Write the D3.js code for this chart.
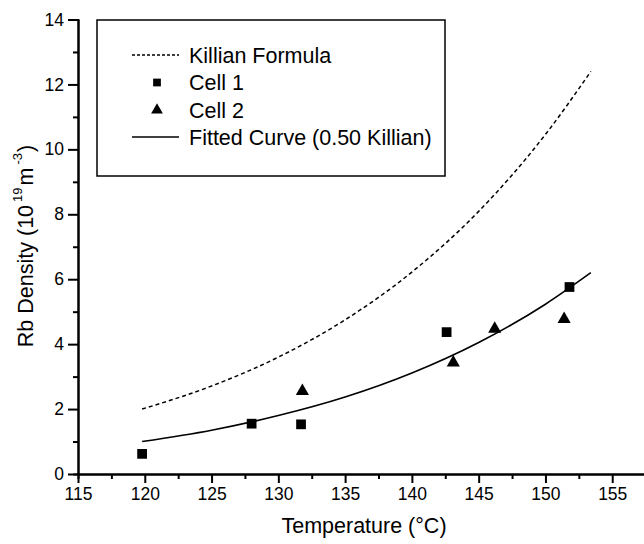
<!DOCTYPE html>
<html lang="en">
<head>
<meta charset="UTF-8">
<title>Rb Density</title>
<script src="https://cdn.jsdelivr.net/npm/d3@7"></script>
<style>
  body { margin: 0; background: #fff; }
  svg { display: block; font-family: "Liberation Sans", Arial, sans-serif; }
  .axis path, .axis line { stroke: #000; stroke-width: 2; }
  .axis text { font-size: 17.5px; fill: #000; }
</style>
</head>
<body>
<div class="chart"></div>
<script>
// data
var cell1Temp = [119.8, 128.0, 131.7, 142.6, 151.8];
var cell1Dens = [0.62, 1.55, 1.53, 4.37, 5.76];
var cell2Temp = [131.8, 143.1, 146.2, 151.4];
var cell2Dens = [2.55, 3.43, 4.47, 4.77];
var curveTemp = [119.8, 125, 130, 135, 140, 145, 150, 153.4];
var killianDens = [2.0, 2.71, 3.60, 4.75, 6.22, 8.09, 10.46, 12.4];
var fittedDens = [1.0, 1.35, 1.80, 2.37, 3.11, 4.05, 5.23, 6.2];
var xTicks = [115, 120, 125, 130, 135, 140, 145, 150, 155];
var yTicks = [0, 2, 4, 6, 8, 10, 12, 14];
var legendLabels = ["Killian Formula", "Cell 1", "Cell 2", "Fitted Curve (0.50 Killian)"];

var width = 644, height = 544;
var svg = d3.select(".chart").append("svg")
    .attr("width", width)
    .attr("height", height);

var x = d3.scaleLinear().domain([115, 160]).range([78, 679]);
var y = d3.scaleLinear().domain([0, 14]).range([474, 19.5]);

// x axis: minor ticks then major ticks
svg.append("g").attr("class", "axis")
    .attr("transform", "translate(0," + y(0) + ")")
    .call(d3.axisBottom(x).tickValues(d3.range(117.5, 157, 5)).tickSize(5).tickFormat(""));
svg.append("g").attr("class", "axis")
    .attr("transform", "translate(0," + y(0) + ")")
    .call(d3.axisBottom(x).tickValues(xTicks).tickSize(9).tickSizeOuter(0).tickPadding(5));

// y axis
svg.append("g").attr("class", "axis")
    .attr("transform", "translate(" + x(115) + ",0)")
    .call(d3.axisLeft(y).tickValues(d3.range(1, 14, 2)).tickSize(5).tickFormat(""));
svg.append("g").attr("class", "axis")
    .attr("transform", "translate(" + x(115) + ",0)")
    .call(d3.axisLeft(y).tickValues(yTicks).tickSize(10).tickSizeOuter(0).tickPadding(4));

// curves
var line = d3.line().curve(d3.curveMonotoneX);
svg.append("path")
    .attr("d", line(curveTemp.map(function(t, i) { return [x(t), y(killianDens[i])]; })))
    .attr("fill", "none").attr("stroke", "#000")
    .attr("stroke-width", 1.5).attr("stroke-dasharray", "4,3");
svg.append("path")
    .attr("d", line(curveTemp.map(function(t, i) { return [x(t), y(fittedDens[i])]; })))
    .attr("fill", "none").attr("stroke", "#000")
    .attr("stroke-width", 1.6);

// points
var square = d3.symbol().type(d3.symbolSquare).size(95);
var triangle = d3.symbol().type(d3.symbolTriangle).size(75);
svg.selectAll("path.c1").data(cell1Temp).enter().append("path")
    .attr("class", "c1")
    .attr("d", square)
    .attr("transform", function(d, i) { return "translate(" + x(d) + "," + y(cell1Dens[i]) + ")"; });
svg.selectAll("path.c2").data(cell2Temp).enter().append("path")
    .attr("class", "c2")
    .attr("d", triangle)
    .attr("transform", function(d, i) { return "translate(" + x(d) + "," + y(cell2Dens[i]) + ")"; });

// legend
var lg = svg.append("g");
lg.append("rect")
    .attr("x", 97).attr("y", 20).attr("width", 348).attr("height", 156)
    .attr("fill", "#fff").attr("stroke", "#000").attr("stroke-width", 1.5);
var rowY = [55, 82.5, 110, 137];
lg.selectAll("text").data(legendLabels).enter().append("text")
    .attr("x", 189).attr("y", function(d, i) { return rowY[i]; })
    .attr("dy", "0.36em")
    .attr("font-size", "21.5px")
    .text(function(d) { return d; });
lg.append("line").attr("x1", 132).attr("x2", 179).attr("y1", rowY[0]).attr("y2", rowY[0])
    .attr("stroke", "#000").attr("stroke-width", 1.5).attr("stroke-dasharray", "3,2");
lg.append("line").attr("x1", 132).attr("x2", 179).attr("y1", rowY[3]).attr("y2", rowY[3])
    .attr("stroke", "#000").attr("stroke-width", 1.5);
lg.append("path").attr("d", d3.symbol().type(d3.symbolSquare).size(60))
    .attr("transform", "translate(157," + rowY[1] + ")");
lg.append("path").attr("d", d3.symbol().type(d3.symbolTriangle).size(60))
    .attr("transform", "translate(157," + rowY[2] + ")");

// axis titles
svg.append("text")
    .attr("x", 364).attr("y", 533)
    .attr("text-anchor", "middle").attr("font-size", "21.5px")
    .text("Temperature (\u00B0C)");
var yl = svg.append("text")
    .attr("transform", "translate(33,246) rotate(-90)")
    .attr("text-anchor", "middle").attr("font-size", "21.5px");
yl.append("tspan").text("Rb Density (10");
yl.append("tspan").attr("dx", "3").attr("dy", "-11").attr("font-size", "13px").text("19");
yl.append("tspan").attr("dx", "2").attr("dy", "11").text("m");
yl.append("tspan").attr("dx", "3").attr("dy", "-11").attr("font-size", "13px").text("-3");
yl.append("tspan").attr("dx", "1").attr("dy", "11").text(")");
</script>
</body>
</html>
